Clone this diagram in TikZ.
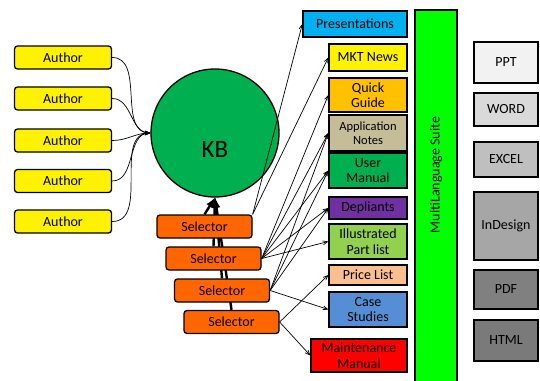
\documentclass[tikz,border=0pt]{standalone}
\usepackage{fontspec}
\setmainfont{Carlito}
\usetikzlibrary{arrows}
\usetikzlibrary{positioning}
\usetikzlibrary{backgrounds}

\definecolor{kbgreen}{RGB}{0,176,80}
\definecolor{selorange}{RGB}{255,102,0}
\definecolor{presblue}{RGB}{0,176,240}
\definecolor{quickgold}{RGB}{255,192,0}
\definecolor{appltan}{RGB}{196,189,151}
\definecolor{deplpurple}{RGB}{112,48,160}
\definecolor{partgreen}{RGB}{146,208,80}
\definecolor{pricepeach}{RGB}{250,191,143}
\definecolor{caseblue}{RGB}{85,142,213}
\definecolor{suitegreen}{RGB}{0,255,0}

\begin{document}
\begin{tikzpicture}[x=1pt, y=-1pt, font=\fontsize{14}{15}\selectfont,
    author/.style = {draw, line width=1.3pt, rounded corners=3pt, fill=yellow,
        minimum width=97pt, minimum height=23pt, inner sep=0pt},
    selector/.style = {draw, line width=1.3pt, rounded corners=3pt, fill=selorange,
        minimum width=95pt, minimum height=23pt, inner sep=0pt},
    doc/.style = {draw, line width=1.3pt, minimum width=78pt, inner sep=0pt,
        align=center, font=\fontsize{14}{15.5}\selectfont},
    fmt/.style = {draw, line width=1.3pt, minimum width=64pt, inner sep=0pt},
    feed/.style = {->, >=angle 45, line width=0.7pt},
    pick/.style = {-latex, line width=2.4pt}]

    \useasboundingbox (0,0) rectangle (540,380);

    \node[circle, draw, line width=1.3pt, fill=kbgreen, minimum size=128pt] (kb) at (215,133) {};
    \node[font=\fontsize{25}{25}\selectfont] (kblabel) at (215,149) {KB};

    \node[author] (a1) at (63,57.5) {Author};
    \node[author] (a2) at (63,98.5) {Author};
    \node[author] (a3) at (63,140.5) {Author};
    \node[author] (a4) at (63,181) {Author};
    \node[author] (a5) at (63,221.5) {Author};
    \foreach \i in {1,...,5}
        \draw[feed] (a\i.east) to[out=0, in=180] (kb.west);

    \node[selector] (s1) at (204.5,226.5) {Selector};
    \node[selector] (s2) at (213.5,258.5) {Selector};
    \node[selector] (s3) at (222,290.5) {Selector};
    \node[selector] (s4) at (231.5,322) {Selector};
    \begin{scope}[on background layer]
        \foreach \i in {1,...,4}
            \draw[pick] (s\i.north) -- (kb.south);
    \end{scope}

    \node[doc, minimum width=104pt, minimum height=26pt, fill=presblue] (pres) at (355,24) {Presentations};
    \node[doc, minimum height=27pt, fill=yellow] (news) at (368,57.5) {MKT News};
    \node[doc, minimum height=34pt, fill=quickgold] (quick) at (368,95) {Quick\\Guide};
    \node[doc, minimum height=36pt, fill=appltan, font=\fontsize{12.5}{14}\selectfont] (appl) at (368,133) {Application\\Notes};
    \node[doc, minimum height=35pt, fill=kbgreen] (user) at (368,170.5) {User\\Manual};
    \node[doc, minimum height=22pt, fill=deplpurple] (depl) at (368,208) {Depliants};
    \node[doc, minimum height=35pt, fill=partgreen] (part) at (368,241.5) {Illustrated\\Part list};
    \node[doc, minimum height=20pt, fill=pricepeach] (price) at (368,275) {Price List};
    \node[doc, minimum height=35pt, fill=caseblue] (case) at (368,309.5) {Case\\Studies};
    \node[doc, minimum width=96pt, minimum height=33pt, fill=red] (maint) at (359,355.5) {Maintenance\\Manual};

    \draw[feed] (s1.north east) -- (pres.west);
    \draw[feed] (s1.north east) -- (news.west);
    \foreach \t in {quick,appl,user,depl,part}
        \draw[feed] (s2.east) -- (\t.west);
    \foreach \t in {appl,user,depl,case}
        \draw[feed] (s3.east) -- (\t.west);
    \draw[feed] (s4.east) -- (price.west);
    \draw[feed] (s4.east) -- (maint.west);

    \node[draw, line width=1.3pt, fill=suitegreen, minimum width=42pt, minimum height=376pt] (suite) at (436,198) {};
    \node[rotate=90] (suitelabel) at (436,175) {MultiLanguage Suite};

    \node[fmt, minimum height=41pt, fill=black!5] (ppt) at (506,62.5) {PPT};
    \node[fmt, minimum height=33pt, fill=black!15] (word) at (506,109.5) {WORD};
    \node[fmt, minimum height=35pt, fill=black!25] (excel) at (506,159.5) {EXCEL};
    \node[fmt, minimum height=68pt, fill=black!35] (indesign) at (506,226) {InDesign};
    \node[fmt, minimum height=39pt, fill=black!50] (pdf) at (506,289.5) {PDF};
    \node[fmt, minimum height=41pt, fill=black!52] (html) at (506,340.5) {HTML};
\end{tikzpicture}
\end{document}
